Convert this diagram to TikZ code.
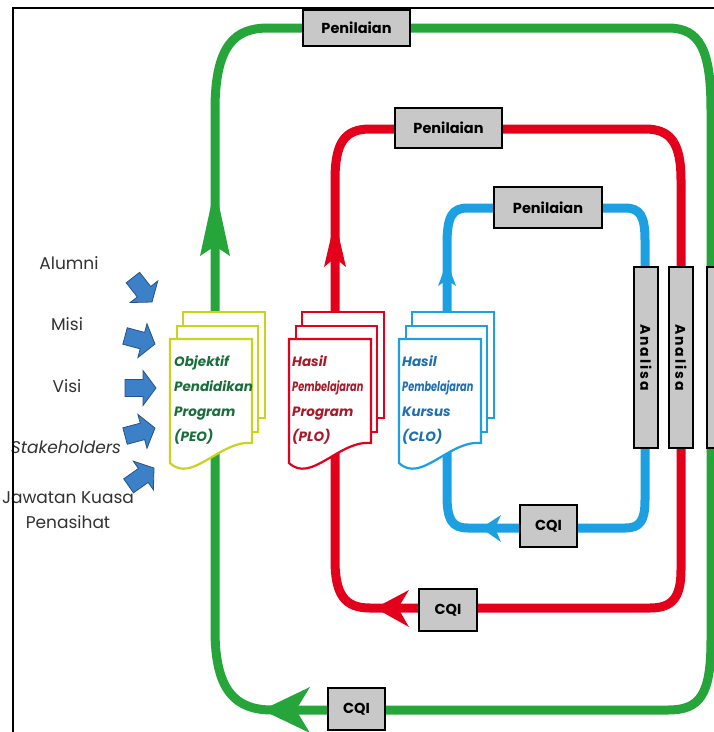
\documentclass[tikz,border=0pt]{standalone}
\usepackage{fontspec}
\setmainfont{Poppins}
\definecolor{gG}{RGB}{38,166,58}
\definecolor{rR}{RGB}{226,0,26}
\definecolor{bB}{RGB}{28,160,226}
\definecolor{yG}{RGB}{200,212,30}
\definecolor{peoT}{RGB}{26,110,60}
\definecolor{ploT}{RGB}{165,25,40}
\definecolor{cloT}{RGB}{30,110,180}
\definecolor{boxG}{RGB}{200,200,200}
\definecolor{arrB}{RGB}{60,128,200}
\definecolor{arrBd}{RGB}{38,82,140}
\definecolor{lblT}{RGB}{50,50,50}
\newcommand\drawdoc[2]{%
  \draw[#2, line width=2.2pt, fill=white] ({#1+13},312) rectangle ({#1+95},418);
  \draw[#2, line width=2.2pt, fill=white] ({#1+7},326) rectangle ({#1+88},432);
  \draw[#2, line width=2.2pt, fill=white] (#1,339) -- ({#1+82},339) -- ({#1+82},443)
     .. controls ({#1+50},440) and ({#1+22},484) .. (#1,463) -- cycle;}
\newcommand\blockarrow[2]{%
  \begin{scope}[shift={#1}, rotate=#2]
  \filldraw[fill=arrB, draw=arrBd, line width=0.8pt, line join=miter]
    (-31,-8.5) -- (-13,-8.5) -- (-13,-17.5) -- (0,0) -- (-13,17.5) -- (-13,8.5) -- (-31,8.5) -- cycle;
  \end{scope}}
\begin{document}
\begin{tikzpicture}[x=1pt,y=-1pt,
  loopline/.style={line width=9pt},
  gbox/.style={draw=black, line width=1.6pt, fill=boxG, inner sep=0pt,
     font=\fontsize{14.5}{14.5}\selectfont\bfseries},
  hbox/.style={gbox, minimum height=38pt},
  vbox/.style={gbox, minimum width=181pt, minimum height=24pt, rotate=-90,
     font=\fontsize{14}{14}\selectfont\bfseries\addfontfeatures{LetterSpace=14}},
  lbl/.style={text=lblT, font=\fontsize{17}{25}\selectfont, align=center, inner sep=0pt},
  doctxt/.style={anchor=west, align=left, inner sep=0pt,
     font=\fontsize{13.5}{25}\selectfont\bfseries\itshape}]
\clip (0,0) rectangle (714,732);
\fill[white] (0,0) rectangle (714,732);

% ---------- loops ----------
\draw[gG, loopline] (215,110) .. controls (215,45) and (235,28) .. (268,28)
  -- (668,28) .. controls (700,28) and (711,50) .. (711,110)
  -- (711,640) .. controls (711,695) and (700,710) .. (668,710)
  -- (272,710) .. controls (235,710) and (215,690) .. (215,630) -- cycle;
\draw[rR, loopline] (335,180) .. controls (335,142) and (345,129) .. (370,129)
  -- (645,129) .. controls (670,129) and (681,142) .. (681,180)
  -- (681,570) .. controls (681,598) and (672,608) .. (650,608)
  -- (370,608) .. controls (345,608) and (335,595) .. (335,560) -- cycle;
\draw[bB, loopline] (447,245) .. controls (447,216) and (452,208) .. (468,208)
  -- (625,208) .. controls (640,208) and (645,216) .. (645,240)
  -- (645,500) .. controls (645,521) and (640,528) .. (625,528)
  -- (468,528) .. controls (452,528) and (447,520) .. (447,495) -- cycle;

% ---------- arrowheads ----------
\fill[gG] (215,187) -- (230,256) -- (215,246) -- (200,256) -- cycle;
\fill[rR] (335,220) -- (346,267) -- (335,258) -- (324,267) -- cycle;
\fill[bB] (447,262) -- (456,286) -- (447,280) -- (438,286) -- cycle;
\fill[bB] (481,528) -- (501,515) -- (495,528) -- (501,542) -- cycle;
\fill[rR] (375,608) -- (409,590) -- (398,608) -- (409,627) -- cycle;
\fill[gG] (262,710) -- (310,687) -- (296,710) -- (310,733) -- cycle;

% ---------- grey boxes ----------
\node[hbox, minimum width=107pt, minimum height=36pt] (penG) at (356.5,28) {Penilaian};
\node[hbox, minimum width=107pt, minimum height=40pt] (penR) at (448.5,128) {Penilaian};
\node[hbox, minimum width=108pt, minimum height=41pt] (penB) at (548,207.5) {Penilaian};
\node[hbox, minimum width=57pt, minimum height=42pt] (cqiB) at (548.5,526) {CQI};
\node[hbox, minimum width=58pt, minimum height=42pt] (cqiR) at (448,610) {CQI};
\node[hbox, minimum width=57pt, minimum height=42pt] (cqiG) at (356.5,709) {CQI};
\node[vbox] (anB) at (646,357.5) {Analisa};
\node[vbox] (anR) at (681,357.5) {Analisa};
\node[vbox] (anG) at (719,357.5) {};

% ---------- documents ----------
\drawdoc{170}{yG}
\drawdoc{289}{rR}
\drawdoc{399}{bB}
\node[doctxt, text=peoT] (peo) at (174,400) {Objektif\\Pendidikan\\Program\\(PEO)};
\node[doctxt, text=ploT] (plo) at (292,400) {Hasil\\\scalebox{0.72}[1]{Pembelajaran}\\Program\\(PLO)};
\node[doctxt, text=cloT] (clo) at (402,400) {Hasil\\\scalebox{0.72}[1]{Pembelajaran}\\Kursus\\(CLO)};

% ---------- inputs ----------
\node[lbl] (alumni) at (69,263) {Alumni};
\node[lbl] (misi) at (67,324) {Misi};
\node[lbl] (visi) at (67,386) {Visi};
\node[lbl, font=\fontsize{17}{25}\selectfont\itshape] (stake) at (66,447) {Stakeholders};
\node[lbl] (jkp) at (68,510) {Jawatan Kuasa\\Penasihat};
\blockarrow{(152,302)}{-52}
\blockarrow{(155,344)}{-15}
\blockarrow{(156,388)}{0}
\blockarrow{(155,428)}{15}
\blockarrow{(154,468)}{35}

% ---------- frame ----------
\draw[black, line width=2.4pt] (13,740) -- (13,8) -- (720,8);
\end{tikzpicture}
\end{document}
